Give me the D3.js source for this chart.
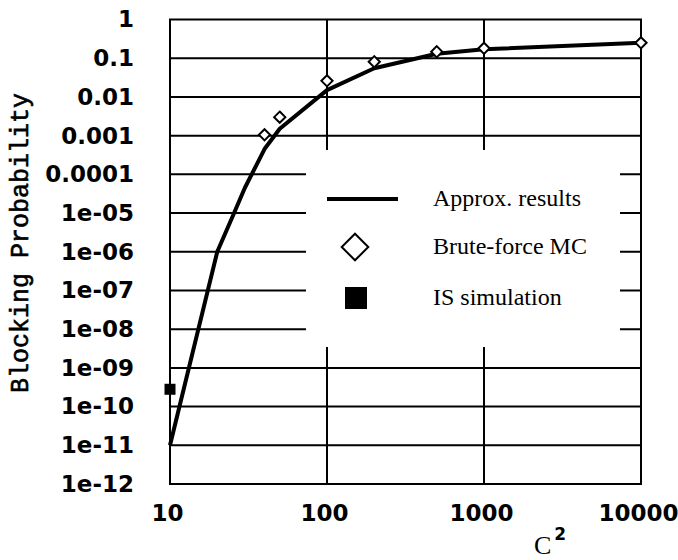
<!DOCTYPE html>
<html>
<head>
<meta charset="utf-8">
<script src="https://cdn.jsdelivr.net/npm/d3@7"></script>
<style>
    body { margin: 0; background: #fff; }
    svg { display: block; }
</style>
</head>
<body>
<div id="chart"></div>
<script>
// C^2 values and blocking probabilities
let approxX = [10, 20, 25, 30, 40, 50, 100, 200, 500, 1000, 10000]
let approxY = [1e-11, 1e-6, 8e-6, 4.5e-5, 4.5e-4, 1.5e-3, 0.015, 0.055, 0.13, 0.17, 0.25]

let mcX = [40, 50, 100, 200, 500, 1000, 10000]
let mcY = [0.00105, 0.003, 0.026, 0.081, 0.147, 0.18, 0.25]

let isX = [10]
let isY = [2.8e-10]

let yTicks = [1, 0.1, 0.01, 0.001, 1e-4, 1e-5, 1e-6, 1e-7, 1e-8, 1e-9, 1e-10, 1e-11, 1e-12]
let yLabels = ["1", "0.1", "0.01", "0.001", "0.0001", "1e-05", "1e-06", "1e-07",
    "1e-08", "1e-09", "1e-10", "1e-11", "1e-12"]
let xTicks = [10, 100, 1000, 10000]
let xLabels = ["10", "100", "1000", "10000"]

let legendNames = ["Approx. results", "Brute-force MC", "IS simulation"]

const width = 678
const height = 560
const plotLeft = 170, plotRight = 641, plotTop = 19.5, plotBottom = 484

let svg = d3.select('#chart')
    .append('svg')
    .attr('width', width)
    .attr('height', height)

let x = d3.scaleLog().domain([10, 10000]).range([plotLeft, plotRight])
let y = d3.scaleLog().domain([1e-12, 1]).range([plotBottom, plotTop])

// grid lines
let grid = svg.append('g')
    .attr('stroke', '#000')
    .attr('stroke-width', 2)

grid.selectAll('.hgrid')
    .data(yTicks.slice(1, -1))
    .enter()
    .append('line')
    .attr('class', 'hgrid')
    .attr('x1', plotLeft)
    .attr('x2', plotRight)
    .attr('y1', d => y(d))
    .attr('y2', d => y(d))

grid.selectAll('.vgrid')
    .data(xTicks.slice(1, -1))
    .enter()
    .append('line')
    .attr('class', 'vgrid')
    .attr('x1', d => x(d))
    .attr('x2', d => x(d))
    .attr('y1', plotTop)
    .attr('y2', plotBottom)

// legend box blanks out the grid behind it
svg.append('rect')
    .attr('x', 306)
    .attr('y', 150)
    .attr('width', 314)
    .attr('height', 197)
    .attr('fill', '#fff')

// frame
svg.append('rect')
    .attr('x', plotLeft)
    .attr('y', plotTop)
    .attr('width', plotRight - plotLeft)
    .attr('height', plotBottom - plotTop)
    .attr('fill', 'none')
    .attr('stroke', '#000')
    .attr('stroke-width', 2)

// axes (labels only)
let yAxis = svg.append('g')
    .attr('transform', `translate(${plotLeft},0)`)
    .call(d3.axisLeft(y)
        .tickValues(yTicks)
        .tickFormat((d, i) => yLabels[i])
        .tickSize(0)
        .tickPadding(36))

let xAxis = svg.append('g')
    .attr('transform', `translate(0,${plotBottom})`)
    .call(d3.axisBottom(x)
        .tickValues(xTicks)
        .tickFormat((d, i) => xLabels[i])
        .tickSize(0)
        .tickPadding(21))

svg.selectAll('.domain').remove()
svg.selectAll('.tick text')
    .attr('font-family', 'DejaVu Sans')
    .attr('font-weight', 'bold')
    .attr('font-size', '23px')
    .attr('fill', '#000')
xAxis.selectAll('.tick text').attr('dx', -3)

// axis titles
svg.append('text')
    .attr('transform', 'translate(28,243) rotate(-90)')
    .attr('text-anchor', 'middle')
    .attr('font-family', 'Liberation Mono')
    .attr('font-size', '25px')
    .attr('stroke', '#000')
    .attr('stroke-width', 0.6)
    .text('Blocking Probability')

let xTitle = svg.append('text')
    .attr('x', 534)
    .attr('y', 554)
    .attr('font-family', 'Liberation Serif')
    .attr('font-size', '26px')
xTitle.append('tspan').text('C')
xTitle.append('tspan')
    .attr('dx', 3)
    .attr('dy', -14)
    .attr('font-family', 'DejaVu Sans')
    .attr('font-weight', 'bold')
    .attr('font-size', '17px')
    .text('2')

// approximation curve
let approx = approxX.map((d, i) => ({ x: d, y: approxY[i] }))
svg.append('path')
    .datum(approx)
    .attr('d', d3.line().x(d => x(d.x)).y(d => y(d.y)))
    .attr('fill', 'none')
    .attr('stroke', '#000')
    .attr('stroke-width', 4)
    .attr('stroke-linejoin', 'round')

// brute-force MC diamonds
let diamond = d3.symbol().type(d3.symbolDiamond2).size(80)
svg.selectAll('.mc')
    .data(mcX.map((d, i) => ({ x: d, y: mcY[i] })))
    .enter()
    .append('path')
    .attr('class', 'mc')
    .attr('d', diamond)
    .attr('transform', d => `translate(${x(d.x)},${y(d.y)})`)
    .attr('fill', '#fff')
    .attr('stroke', '#000')
    .attr('stroke-width', 2)

// IS simulation squares
svg.selectAll('.is')
    .data(isX.map((d, i) => ({ x: d, y: isY[i] })))
    .enter()
    .append('rect')
    .attr('class', 'is')
    .attr('x', d => x(d.x) - 5.5)
    .attr('y', d => y(d.y) - 5.5)
    .attr('width', 11)
    .attr('height', 11)
    .attr('fill', '#000')

// legend
let legend = svg.append('g')
let rowY = [199, 247, 298]

legend.append('line')
    .attr('x1', 327)
    .attr('x2', 398)
    .attr('y1', rowY[0])
    .attr('y2', rowY[0])
    .attr('stroke', '#000')
    .attr('stroke-width', 4)

legend.append('path')
    .attr('d', d3.symbol().type(d3.symbolDiamond2).size(450))
    .attr('transform', `translate(355,${rowY[1]})`)
    .attr('fill', '#fff')
    .attr('stroke', '#000')
    .attr('stroke-width', 2)

legend.append('rect')
    .attr('x', 345)
    .attr('y', rowY[2] - 11)
    .attr('width', 22)
    .attr('height', 22)
    .attr('fill', '#000')

legend.selectAll('.legend-text')
    .data(legendNames)
    .enter()
    .append('text')
    .attr('class', 'legend-text')
    .attr('x', 433)
    .attr('y', (d, i) => rowY[i] + 7)
    .attr('font-family', 'Liberation Serif')
    .attr('font-size', '24px')
    .text(d => d)
</script>
</body>
</html>
